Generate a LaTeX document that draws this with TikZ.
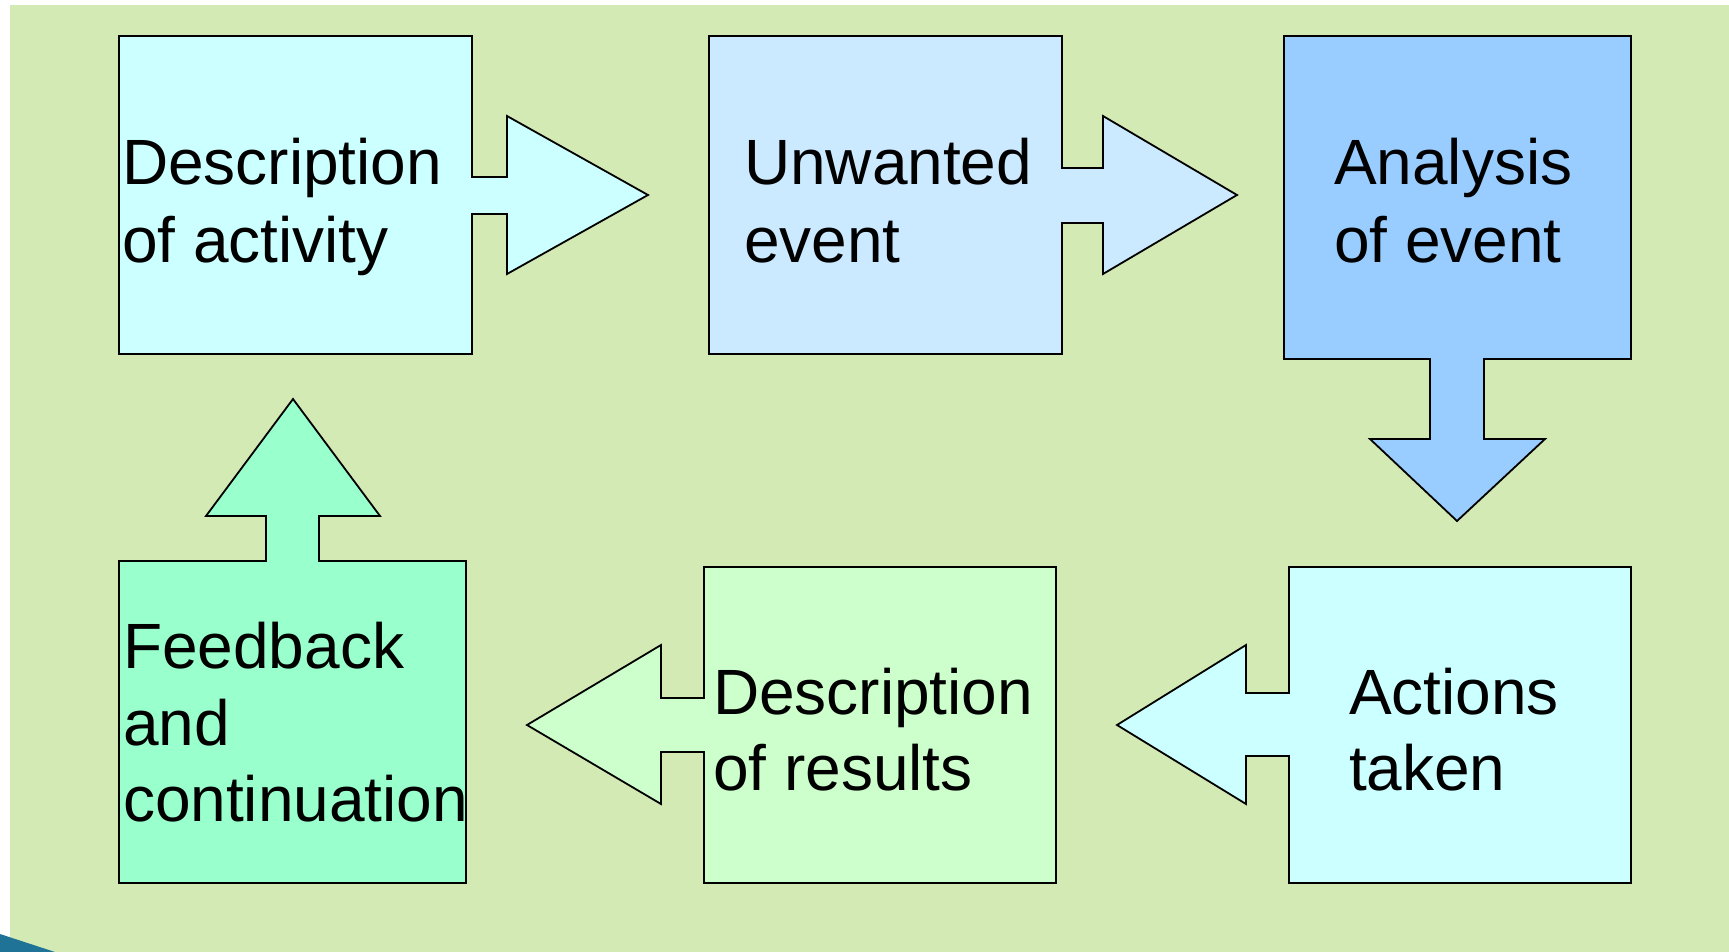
\documentclass[tikz,border=0pt]{standalone}
\usepackage{fontspec}
\setmainfont{Liberation Sans}
\definecolor{bggreen}{RGB}{212,234,180}
\definecolor{cA}{RGB}{204,255,255}
\definecolor{cB}{RGB}{204,234,255}
\definecolor{cC}{RGB}{153,204,255}
\definecolor{cD}{RGB}{204,255,255}
\definecolor{cE}{RGB}{204,255,204}
\definecolor{cF}{RGB}{153,255,204}
\definecolor{swoosh}{RGB}{30,115,150}
\tikzset{
  shapebox/.style={draw=black, line width=1.8pt, line join=miter},
  txt/.style={inner sep=0pt, outer sep=0pt, anchor=base west, font=\fontsize{64pt}{76pt}\selectfont, text=black}
}
\begin{document}
\begin{tikzpicture}[x=1pt,y=-1pt]
\useasboundingbox (0,0) rectangle (1729,952);
\fill[white] (0,0) rectangle (1729,952);
\fill[bggreen] (10,5) rectangle (1729,952);
\fill[swoosh] (0,934) -- (55,952) -- (0,952) -- cycle;

% Box 1 with right arrow
\draw[shapebox, fill=cA] (119,36) -- (472,36) -- (472,177) -- (507,177) -- (507,116) -- (648,195)
  -- (507,274) -- (507,214) -- (472,214) -- (472,354) -- (119,354) -- cycle;
% Box 2 with right arrow
\draw[shapebox, fill=cB] (709,36) -- (1062,36) -- (1062,168) -- (1103,168) -- (1103,116) -- (1237,195)
  -- (1103,274) -- (1103,223) -- (1062,223) -- (1062,354) -- (709,354) -- cycle;
% Box 3 with down arrow
\draw[shapebox, fill=cC] (1284,36) -- (1631,36) -- (1631,359) -- (1484,359) -- (1484,439) -- (1545,439)
  -- (1457,521) -- (1370,439) -- (1430,439) -- (1430,359) -- (1284,359) -- cycle;
% Box 4 with left arrow
\draw[shapebox, fill=cD] (1289,567) -- (1631,567) -- (1631,883) -- (1289,883) -- (1289,756) -- (1246,756)
  -- (1246,804) -- (1117,725) -- (1246,645) -- (1246,693) -- (1289,693) -- cycle;
% Box 5 with left arrow
\draw[shapebox, fill=cE] (704,567) -- (1056,567) -- (1056,883) -- (704,883) -- (704,752) -- (661,752)
  -- (661,804) -- (527,725) -- (661,645) -- (661,698) -- (704,698) -- cycle;
% Box 6 with up arrow
\draw[shapebox, fill=cF] (119,561) -- (266,561) -- (266,516) -- (206,516) -- (293,399) -- (380,516)
  -- (319,516) -- (319,561) -- (466,561) -- (466,883) -- (119,883) -- cycle;

% Texts
\node[txt] (t1a) at (122,185) {Description};
\node[txt] (t1b) at (122,262) {of activity};
\node[txt] (t2a) at (744,185) {Unwanted};
\node[txt] (t2b) at (744,262) {event};
\node[txt] (t3a) at (1334,185) {Analysis};
\node[txt] (t3b) at (1334,262) {of event};
\node[txt] (t4a) at (1349,714) {Actions};
\node[txt] (t4b) at (1349,790) {taken};
\node[txt] (t5a) at (713,714) {Description};
\node[txt] (t5b) at (713,790) {of results};
\node[txt] (t6a) at (123,668) {Feedback};
\node[txt] (t6b) at (123,745) {and};
\node[txt] (t6c) at (123,821) {continuation};
\end{tikzpicture}
\end{document}
